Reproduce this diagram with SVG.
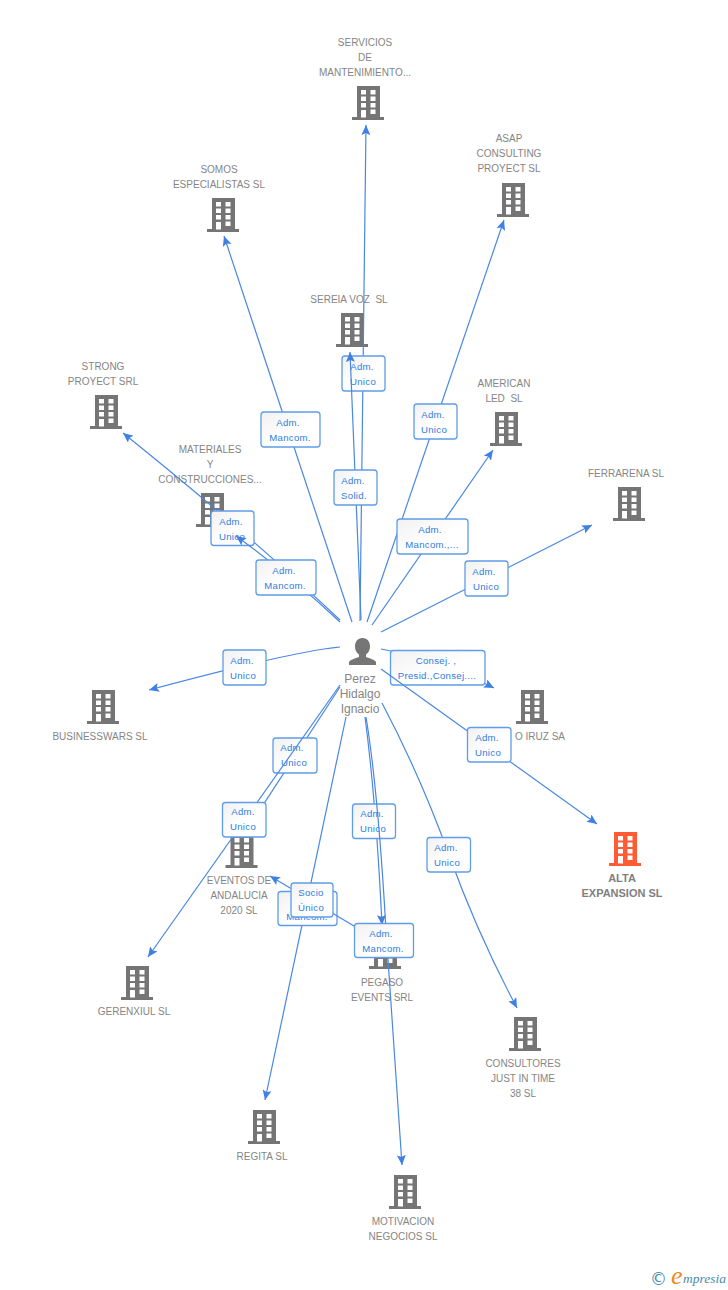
<svg xmlns="http://www.w3.org/2000/svg" width="728" height="1290" viewBox="0 0 728 1290">
<style>
text{font-family:"Liberation Sans",Arial,sans-serif}
.n{font-size:10px;fill:#858585;text-anchor:middle;white-space:pre}
.b{font-size:11px;font-weight:bold;fill:#808080;text-anchor:middle}
.p{font-size:12px;fill:#858585;text-anchor:middle}
.l{font-size:9.6px;fill:#2f7de1;text-anchor:middle;letter-spacing:.3px}
.e{fill:none;stroke:#4a87e2;stroke-width:1.2;marker-end:url(#a)}
.r{fill:url(#g);stroke:#5f9de9;stroke-width:1.3}
</style>
<defs>
<linearGradient id="g" x1="0" y1="0" x2="1" y2="1"><stop offset="0" stop-color="#f1f1f1"/><stop offset=".55" stop-color="#fff"/></linearGradient>
<marker id="a" markerUnits="userSpaceOnUse" markerWidth="11" markerHeight="9" refX="10" refY="4.5" orient="auto"><path d="M0,0L10,4.5L0,9L2,4.5z" fill="#3f80e2"/></marker>
<path id="i" fill-rule="evenodd" d="M5,0H28V31H32V34H0V31H5ZM9,4V8.5H14V4ZM18.5,4V8.5H23.5V4ZM9,10.5V15H14V10.5ZM18.5,10.5V15H23.5V10.5ZM9,17V21.5H14V17ZM18.5,17V21.5H23.5V17ZM9,24V31.5H14V24ZM18.5,23.5V28H23.5V23.5Z"/>
</defs>
<rect width="728" height="1290" fill="#fff"/>
<g id="n-servicios" fill="#757575"><use href="#i" x="352" y="86"/><text class="n" x="365" y="46">SERVICIOS</text><text class="n" x="365" y="61">DE</text><text class="n" x="365" y="76">MANTENIMIENTO...</text></g>
<g id="n-asap" fill="#757575"><use href="#i" x="497" y="183"/><text class="n" x="509" y="142">ASAP</text><text class="n" x="509" y="157">CONSULTING</text><text class="n" x="509" y="172">PROYECT SL</text></g>
<g id="n-somos" fill="#757575"><use href="#i" x="207" y="198"/><text class="n" x="219" y="173">SOMOS</text><text class="n" x="219" y="188">ESPECIALISTAS SL</text></g>
<g id="n-sereia" fill="#757575"><use href="#i" x="336" y="313"/><text class="n" x="349" y="303">SEREIA VOZ  SL</text></g>
<g id="n-american" fill="#757575"><use href="#i" x="490" y="412"/><text class="n" x="504" y="387">AMERICAN</text><text class="n" x="504" y="402">LED  SL</text></g>
<g id="n-strong" fill="#757575"><use href="#i" x="90" y="395"/><text class="n" x="103" y="370">STRONG</text><text class="n" x="103" y="385">PROYECT SRL</text></g>
<g id="n-materiales" fill="#757575"><use href="#i" x="196" y="493"/><text class="n" x="210" y="453">MATERIALES</text><text class="n" x="210" y="468">Y</text><text class="n" x="210" y="483">CONSTRUCCIONES...</text></g>
<g id="n-ferrarena" fill="#757575"><use href="#i" x="613" y="487"/><text class="n" x="626" y="477">FERRARENA SL</text></g>
<g id="n-businesswars" fill="#757575"><use href="#i" x="87" y="690"/><text class="n" x="100" y="740">BUSINESSWARS SL</text></g>
<g id="n-iruz" fill="#757575"><use href="#i" x="516" y="690"/><text class="n" x="565" y="740" style="text-anchor:end">O IRUZ SA</text></g>
<g id="n-alta" fill="#ff5c35"><use href="#i" x="609" y="832"/><text class="b" x="622" y="882">ALTA</text><text class="b" x="622" y="897">EXPANSION SL</text></g>
<g id="n-eventos" fill="#757575"><use href="#i" x="225.500" y="834"/><text class="n" x="239" y="884">EVENTOS DE</text><text class="n" x="239" y="899">ANDALUCIA</text><text class="n" x="239" y="914">2020 SL</text></g>
<g id="n-gerenxiul" fill="#757575"><use href="#i" x="121" y="966"/><text class="n" x="134" y="1015">GERENXIUL SL</text></g>
<g id="n-pegaso" fill="#757575"><use href="#i" x="369" y="935"/><text class="n" x="382" y="986">PEGASO</text><text class="n" x="382" y="1001">EVENTS SRL</text></g>
<g id="n-consultores" fill="#757575"><use href="#i" x="509" y="1017"/><text class="n" x="523" y="1067">CONSULTORES</text><text class="n" x="523" y="1082">JUST IN TIME</text><text class="n" x="523" y="1097">38 SL</text></g>
<g id="n-regita" fill="#757575"><use href="#i" x="248" y="1110"/><text class="n" x="262" y="1160">REGITA SL</text></g>
<g id="n-motivacion" fill="#757575"><use href="#i" x="389" y="1175"/><text class="n" x="403" y="1225">MOTIVACION</text><text class="n" x="403" y="1240">NEGOCIOS SL</text></g>
<g id="n-perez"><path fill="#757575" d="M362.500,638c-5,0-7.500,4-7.500,8.500c0,3.500,1.500,6.500,4,8v2.500c-3.500,1.500-9,2.500-10,5v3h27v-3c-1-2.500-6.500-3.500-10-5v-2.500c2.500-1.500,4-4.500,4-8c0-4.500-2.500-8.500-7.500-8.500z"/><text class="p" x="360" y="683">Perez</text><text class="p" x="360" y="698">Hidalgo</text><text class="p" x="360" y="713">Ignacio</text></g>
<g id="connectors">
<path class="e" d="M340,620Q250,535 123,433"/><rect class="r" x="211" y="511" width="43" height="34.500" rx="3"/><text class="l" x="231" y="525">Adm.</text><text class="l" x="232" y="540">Unico</text>
<path class="e" d="M340,622Q290,575 236,536"/><rect class="r" x="256" y="560" width="60" height="35" rx="3"/><text class="l" x="284" y="574">Adm.</text><text class="l" x="285" y="589">Mancom.</text>
<path class="e" d="M360,621L366,125"/><rect class="r" x="342" y="356" width="43" height="35" rx="3"/><text class="l" x="362" y="370">Adm.</text><text class="l" x="363" y="385">Unico</text>
<path class="e" d="M361,620L350,352"/><rect class="r" x="334" y="470" width="43" height="35" rx="3"/><text class="l" x="353" y="484">Adm.</text><text class="l" x="354" y="499">Solid.</text>
<path class="e" d="M352,622L224,236"/><rect class="r" x="261" y="412" width="59" height="35" rx="3"/><text class="l" x="288" y="426">Adm.</text><text class="l" x="290" y="441">Mancom.</text>
<path class="e" d="M367,622L504,220"/><rect class="r" x="414" y="404" width="43" height="35" rx="3"/><text class="l" x="433" y="418">Adm.</text><text class="l" x="434" y="433">Unico</text>
<path class="e" d="M372,625L493,450"/><rect class="r" x="397" y="519" width="71" height="35" rx="3"/><text class="l" x="430" y="533">Adm.</text><text class="l" x="432" y="548">Mancom.,...</text>
<path class="e" d="M381,632L592,525"/><rect class="r" x="465" y="561" width="43" height="35" rx="3"/><text class="l" x="484" y="575">Adm.</text><text class="l" x="486" y="590">Unico</text>
<path class="e" d="M340,647Q290,652 149,690"/><rect class="r" x="223" y="650" width="43" height="35" rx="3"/><text class="l" x="242" y="664">Adm.</text><text class="l" x="243" y="679">Unico</text>
<path class="e" d="M381,649Q440,660 494,688"/><rect class="r" x="390.500" y="650.500" width="94.500" height="34.500" rx="3"/><text class="l" x="436" y="664">Consej. ,</text><text class="l" x="437" y="679">Presid.,Consej....</text>
<path class="e" d="M381,669L597,824"/><rect class="r" x="467.500" y="727.500" width="43.500" height="34.500" rx="3"/><text class="l" x="487" y="741">Adm.</text><text class="l" x="488" y="756">Unico</text>
<path class="e" d="M340,687L250,825"/><rect class="r" x="273" y="738" width="44" height="35" rx="3"/><text class="l" x="292" y="751">Adm.</text><text class="l" x="294" y="766">Unico</text>
<path class="e" d="M340,685L148,957"/><rect class="r" x="222.500" y="802.500" width="43.500" height="34.500" rx="3"/><text class="l" x="243" y="815">Adm.</text><text class="l" x="243" y="830">Unico</text>
<path class="e" d="M346,717L265,1100"/><rect class="r" x="278" y="891.500" width="59" height="34" rx="3"/><text class="l" x="307" y="920">Mancom.</text>
<path class="e" d="M354,926L270,876"/><rect class="r" x="291" y="883" width="42" height="34" rx="3"/><text class="l" x="311" y="896">Socio</text><text class="l" x="311" y="911">Único</text>
<path class="e" d="M365,717Q376,800 382,925"/><rect class="r" x="352.500" y="804" width="43" height="34.500" rx="3"/><text class="l" x="372" y="817">Adm.</text><text class="l" x="373" y="832">Unico</text>
<path class="e" d="M366,717Q378,790 386,930L402,1165"/><rect class="r" x="354.500" y="923.500" width="59" height="34" rx="3"/><text class="l" x="381" y="937">Adm.</text><text class="l" x="383" y="952">Mancom.</text>
<path class="e" d="M382,703Q420,775 449,855T517,1008"/><rect class="r" x="427" y="837.500" width="43.500" height="34.500" rx="3"/><text class="l" x="446" y="851">Adm.</text><text class="l" x="447" y="866">Unico</text>
</g>
<g id="logo">
<text x="650" y="1285" style="font-family:'DejaVu Sans',sans-serif;font-size:17px;fill:#4a8aa8">©</text>
<text x="671" y="1284" style="font-family:'Liberation Serif',serif;font-style:italic;font-size:26px;fill:#f08a1d">e</text>
<text x="683" y="1283" style="font-family:'Liberation Serif',serif;font-style:italic;font-size:13.500px;fill:#4a8aa8">mpresia</text>
</g>
</svg>
